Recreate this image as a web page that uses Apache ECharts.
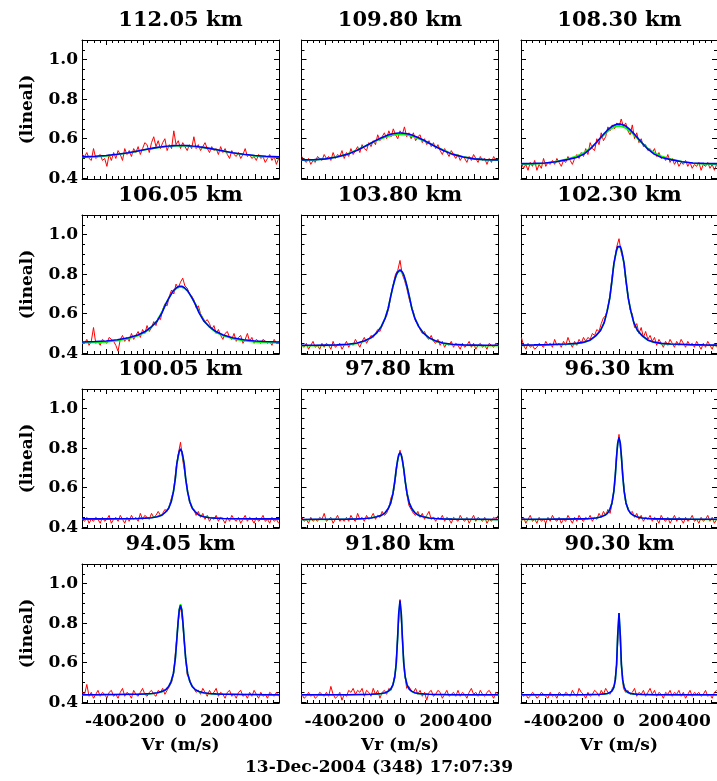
<!DOCTYPE html>
<html><head><meta charset="utf-8">
<script src="https://cdn.jsdelivr.net/npm/echarts@6/dist/echarts.min.js"></script>
<style>html,body{margin:0;padding:0;background:#fff}#c{width:717px;height:781px}</style>
</head><body><div id="c"></div><script>
// ---------------- DATA ----------------
const panelTitles = ['112.05 km','109.80 km','108.30 km','106.05 km','103.80 km','102.30 km',
                     '100.05 km','97.80 km','96.30 km','94.05 km','91.80 km','90.30 km'];
const caption = '13-Dec-2004 (348) 17:07:39';
const xName = 'Vr (m/s)';
const yName = '(lineal)';

const xMajorTicks = [-400,-200,0,200,400];
// labels split over two axes so the touching "-400" and "-200" are both drawn
const xLabelsA = [-200,0,200,400];
const xLabelsB = [-400];
const xMinorTicks = [-500,-466.7,-433.3,-366.7,-333.3,-300,-266.7,-233.3,-166.7,-133.3,-100,-66.7,-33.3,
                     33.3,66.7,100,133.3,166.7,233.3,266.7,300,333.3,366.7,433.3,466.7,500];
const yMajorTicks = [0.4,0.6,0.8,1.0];
const yMinorTicks = [0.45,0.5,0.55,0.65,0.7,0.75,0.85,0.9,0.95,1.05];

// velocities of the measured (red) spectra
const redX = [-528,-516,-504,-492,-480,-468,-456,-444,-432,-420,
  -408,-396,-384,-372,-360,-348,-336,-324,-312,-300,
  -288,-276,-264,-252,-240,-228,-216,-204,-192,-180,
  -168,-156,-144,-132,-120,-108,-96,-84,-72,-60,
  -48,-36,-24,-12,0,12,24,36,48,60,
  72,84,96,108,120,132,144,156,168,180,
  192,204,216,228,240,252,264,276,288,300,
  312,324,336,348,360,372,384,396,408,420,
  432,444,456,468,480,492,504,516,528];

// velocities of the fitted (green / blue) curves
const fitX = [-530,-460,-400,-340,-280,-230,-190,-155,-125,-100,-80,-64,-50,-38,-28,-20,-13,-7,0,
  7,13,20,28,38,50,64,80,100,125,155,190,230,280,340,400,460,530];

const red1 = [0.52,0.51,0.53,0.50,0.49,0.55,0.50,0.51,0.52,0.49,
  0.50,0.46,0.52,0.49,0.53,0.50,0.54,0.52,0.49,0.55,
  0.52,0.54,0.51,0.55,0.53,0.56,0.52,0.55,0.58,0.57,
  0.53,0.58,0.61,0.56,0.59,0.55,0.58,0.60,0.54,0.57,
  0.55,0.64,0.57,0.59,0.55,0.58,0.56,0.54,0.57,0.55,
  0.61,0.55,0.57,0.54,0.56,0.58,0.55,0.53,0.56,0.54,
  0.55,0.52,0.56,0.53,0.55,0.52,0.50,0.54,0.52,0.51,
  0.53,0.50,0.52,0.55,0.51,0.52,0.50,0.51,0.49,0.52,
  0.50,0.51,0.48,0.50,0.52,0.49,0.51,0.47,0.50];
const red2 = [0.51,0.49,0.48,0.50,0.47,0.49,0.48,0.51,0.50,0.49,
  0.52,0.50,0.51,0.49,0.53,0.50,0.52,0.51,0.54,0.50,
  0.53,0.51,0.55,0.52,0.54,0.56,0.53,0.57,0.55,0.54,
  0.58,0.56,0.59,0.57,0.62,0.59,0.61,0.63,0.60,0.64,
  0.61,0.65,0.62,0.60,0.64,0.62,0.66,0.61,0.63,0.60,
  0.63,0.59,0.61,0.62,0.58,0.60,0.57,0.59,0.56,0.58,
  0.55,0.57,0.54,0.52,0.55,0.53,0.51,0.54,0.52,0.50,
  0.52,0.49,0.51,0.50,0.48,0.51,0.49,0.52,0.50,0.48,
  0.51,0.49,0.50,0.47,0.50,0.48,0.51,0.49,0.50];
const red3 = [0.48,0.45,0.47,0.44,0.48,0.46,0.49,0.44,0.47,0.45,
  0.50,0.46,0.48,0.47,0.49,0.47,0.50,0.48,0.46,0.49,
  0.48,0.51,0.49,0.47,0.50,0.52,0.50,0.53,0.51,0.55,
  0.52,0.58,0.55,0.54,0.60,0.57,0.63,0.59,0.61,0.66,
  0.64,0.67,0.65,0.68,0.66,0.70,0.66,0.68,0.64,0.62,
  0.67,0.60,0.63,0.58,0.60,0.56,0.57,0.54,0.55,0.53,
  0.55,0.51,0.53,0.50,0.51,0.49,0.52,0.48,0.50,0.47,
  0.49,0.46,0.48,0.47,0.49,0.46,0.48,0.45,0.47,0.46,
  0.48,0.44,0.47,0.46,0.48,0.45,0.47,0.44,0.47];
const red4 = [0.46,0.45,0.47,0.44,0.46,0.53,0.45,0.46,0.44,0.47,
  0.46,0.45,0.48,0.47,0.46,0.44,0.41,0.47,0.49,0.46,
  0.48,0.46,0.50,0.47,0.49,0.51,0.48,0.52,0.50,0.54,
  0.51,0.53,0.56,0.54,0.58,0.57,0.62,0.65,0.64,0.69,
  0.72,0.70,0.75,0.73,0.76,0.78,0.74,0.73,0.70,0.69,
  0.67,0.63,0.64,0.60,0.58,0.56,0.57,0.55,0.52,0.54,
  0.50,0.52,0.49,0.47,0.50,0.51,0.48,0.47,0.50,0.46,
  0.48,0.49,0.45,0.47,0.50,0.46,0.48,0.45,0.47,0.46,
  0.45,0.47,0.46,0.45,0.46,0.44,0.47,0.45,0.46];
const red5 = [0.44,0.43,0.45,0.42,0.44,0.46,0.43,0.44,0.42,0.45,
  0.43,0.45,0.44,0.42,0.46,0.43,0.44,0.45,0.42,0.44,
  0.46,0.43,0.45,0.44,0.47,0.45,0.43,0.46,0.48,0.45,
  0.47,0.49,0.48,0.50,0.52,0.51,0.54,0.57,0.59,0.63,
  0.70,0.75,0.80,0.82,0.87,0.80,0.77,0.73,0.68,0.64,
  0.61,0.56,0.55,0.52,0.50,0.51,0.48,0.47,0.49,0.46,
  0.45,0.47,0.44,0.46,0.43,0.45,0.44,0.46,0.43,0.45,
  0.44,0.42,0.45,0.43,0.44,0.46,0.43,0.45,0.42,0.44,
  0.45,0.43,0.44,0.42,0.45,0.44,0.43,0.45,0.44];
const red6 = [0.48,0.44,0.42,0.45,0.43,0.44,0.42,0.43,0.45,0.44,
  0.43,0.46,0.44,0.45,0.43,0.47,0.44,0.45,0.43,0.46,
  0.44,0.48,0.45,0.43,0.46,0.44,0.47,0.45,0.48,0.46,
  0.48,0.47,0.50,0.49,0.52,0.51,0.55,0.58,0.59,0.63,
  0.70,0.80,0.87,0.94,0.98,0.91,0.87,0.77,0.70,0.62,
  0.60,0.53,0.55,0.50,0.53,0.48,0.51,0.47,0.49,0.46,
  0.48,0.44,0.47,0.45,0.43,0.46,0.44,0.47,0.45,0.43,
  0.46,0.44,0.47,0.45,0.43,0.46,0.44,0.45,0.43,0.46,
  0.44,0.42,0.45,0.43,0.46,0.44,0.42,0.45,0.43];
const red7 = [0.44,0.43,0.45,0.42,0.44,0.43,0.45,0.44,0.42,0.45,
  0.43,0.44,0.46,0.42,0.44,0.45,0.43,0.46,0.44,0.42,
  0.45,0.43,0.46,0.44,0.45,0.43,0.47,0.44,0.46,0.45,
  0.44,0.47,0.45,0.46,0.48,0.46,0.47,0.49,0.48,0.51,
  0.55,0.59,0.70,0.77,0.83,0.74,0.67,0.60,0.53,0.50,
  0.49,0.46,0.48,0.45,0.47,0.44,0.46,0.43,0.45,0.44,
  0.46,0.43,0.45,0.44,0.42,0.45,0.43,0.46,0.44,0.43,
  0.45,0.42,0.44,0.46,0.43,0.45,0.44,0.42,0.45,0.43,
  0.44,0.46,0.43,0.44,0.42,0.45,0.43,0.44,0.42];
const red8 = [0.45,0.43,0.44,0.42,0.45,0.43,0.44,0.43,0.45,0.44,
  0.47,0.43,0.44,0.45,0.42,0.44,0.46,0.43,0.44,0.43,
  0.45,0.43,0.46,0.44,0.43,0.47,0.44,0.45,0.43,0.46,
  0.44,0.45,0.47,0.44,0.46,0.45,0.48,0.46,0.47,0.50,
  0.55,0.57,0.65,0.74,0.79,0.75,0.66,0.57,0.51,0.49,
  0.47,0.46,0.48,0.45,0.47,0.44,0.46,0.48,0.44,0.45,
  0.43,0.45,0.44,0.46,0.43,0.45,0.44,0.42,0.45,0.44,
  0.43,0.46,0.44,0.43,0.45,0.42,0.44,0.46,0.43,0.45,
  0.44,0.43,0.45,0.42,0.44,0.43,0.45,0.44,0.46];
const red9 = [0.43,0.45,0.42,0.44,0.46,0.43,0.44,0.42,0.45,0.43,
  0.44,0.42,0.45,0.43,0.46,0.44,0.43,0.45,0.42,0.44,
  0.43,0.46,0.44,0.42,0.45,0.43,0.46,0.44,0.43,0.45,
  0.44,0.46,0.43,0.45,0.44,0.47,0.45,0.48,0.46,0.49,
  0.47,0.53,0.61,0.78,0.87,0.76,0.63,0.52,0.50,0.47,
  0.48,0.45,0.47,0.44,0.46,0.43,0.45,0.44,0.46,0.43,
  0.45,0.44,0.42,0.46,0.44,0.43,0.45,0.42,0.44,0.46,
  0.43,0.45,0.44,0.42,0.45,0.43,0.44,0.46,0.43,0.44,
  0.42,0.45,0.43,0.44,0.46,0.43,0.45,0.42,0.44];
const red10 = [0.45,0.44,0.49,0.43,0.45,0.42,0.44,0.46,0.43,0.45,
  0.44,0.42,0.45,0.46,0.43,0.44,0.42,0.45,0.47,0.43,
  0.45,0.44,0.42,0.46,0.44,0.43,0.45,0.47,0.44,0.43,
  0.45,0.46,0.44,0.43,0.46,0.45,0.47,0.44,0.46,0.48,
  0.50,0.55,0.69,0.81,0.89,0.80,0.66,0.54,0.52,0.48,
  0.47,0.45,0.46,0.44,0.47,0.45,0.43,0.46,0.44,0.45,
  0.47,0.43,0.45,0.44,0.42,0.45,0.46,0.43,0.44,0.42,
  0.45,0.46,0.43,0.44,0.42,0.45,0.43,0.46,0.44,0.42,
  0.45,0.43,0.44,0.42,0.45,0.44,0.43,0.45,0.43];
const red11 = [0.44,0.42,0.43,0.45,0.43,0.44,0.42,0.43,0.45,0.44,
  0.43,0.45,0.43,0.48,0.44,0.42,0.43,0.45,0.41,0.44,
  0.43,0.46,0.45,0.47,0.44,0.46,0.45,0.47,0.43,0.46,
  0.45,0.43,0.47,0.44,0.46,0.42,0.45,0.46,0.44,0.47,
  0.46,0.50,0.56,0.74,0.92,0.74,0.55,0.47,0.48,0.46,
  0.45,0.47,0.44,0.46,0.43,0.45,0.41,0.45,0.46,0.43,
  0.44,0.46,0.45,0.42,0.44,0.46,0.43,0.44,0.45,0.43,
  0.46,0.43,0.45,0.44,0.42,0.45,0.47,0.44,0.45,0.43,
  0.46,0.44,0.43,0.45,0.46,0.44,0.42,0.45,0.44];
const red12 = [0.45,0.43,0.44,0.42,0.43,0.45,0.44,0.42,0.43,0.45,
  0.44,0.43,0.42,0.45,0.43,0.44,0.42,0.45,0.44,0.43,
  0.45,0.44,0.43,0.46,0.44,0.43,0.47,0.45,0.44,0.42,
  0.45,0.43,0.44,0.46,0.45,0.43,0.46,0.44,0.47,0.45,
  0.44,0.47,0.49,0.60,0.85,0.60,0.47,0.45,0.46,0.44,
  0.45,0.47,0.43,0.45,0.44,0.46,0.43,0.45,0.47,0.44,
  0.46,0.43,0.45,0.44,0.42,0.45,0.44,0.46,0.43,0.45,
  0.44,0.46,0.43,0.45,0.42,0.44,0.46,0.43,0.45,0.44,
  0.45,0.43,0.44,0.46,0.43,0.44,0.42,0.45,0.46];

const blue1 = [0.508,0.511,0.515,0.521,0.529,0.538,0.545,0.551,0.556,0.559,0.562,0.563,0.564,0.565,0.565,0.566,0.566,0.566,0.566,0.566,0.566,0.566,0.565,0.565,0.564,0.563,0.562,0.559,0.556,0.551,0.545,0.538,0.529,0.521,0.515,0.511,0.508];
const green1 = [0.505,0.508,0.513,0.520,0.528,0.537,0.544,0.550,0.554,0.557,0.559,0.561,0.562,0.563,0.563,0.564,0.564,0.564,0.564,0.564,0.564,0.564,0.563,0.563,0.562,0.561,0.559,0.557,0.554,0.550,0.544,0.537,0.528,0.520,0.513,0.508,0.505];
const blue2 = [0.493,0.494,0.498,0.507,0.522,0.542,0.561,0.578,0.594,0.605,0.613,0.619,0.623,0.625,0.627,0.628,0.629,0.629,0.629,0.629,0.629,0.628,0.627,0.625,0.623,0.619,0.613,0.605,0.594,0.578,0.561,0.542,0.522,0.507,0.498,0.494,0.493];
const green2 = [0.491,0.493,0.498,0.508,0.524,0.544,0.562,0.578,0.591,0.600,0.607,0.612,0.616,0.618,0.620,0.621,0.622,0.622,0.622,0.622,0.622,0.621,0.620,0.618,0.616,0.612,0.607,0.600,0.591,0.578,0.562,0.544,0.524,0.508,0.498,0.493,0.491];
const blue3 = [0.474,0.475,0.477,0.483,0.494,0.505,0.522,0.548,0.578,0.605,0.626,0.642,0.654,0.663,0.668,0.671,0.673,0.674,0.674,0.674,0.673,0.671,0.668,0.663,0.654,0.642,0.626,0.605,0.578,0.548,0.522,0.505,0.494,0.483,0.477,0.475,0.474];
const green3 = [0.470,0.472,0.476,0.484,0.497,0.511,0.529,0.552,0.578,0.601,0.620,0.634,0.645,0.653,0.658,0.661,0.663,0.664,0.664,0.664,0.663,0.661,0.658,0.653,0.645,0.634,0.620,0.601,0.578,0.552,0.529,0.511,0.497,0.484,0.476,0.472,0.470];
const blue4 = [0.457,0.459,0.462,0.468,0.478,0.492,0.510,0.535,0.564,0.604,0.647,0.676,0.699,0.717,0.727,0.733,0.737,0.739,0.740,0.739,0.737,0.733,0.727,0.717,0.699,0.676,0.647,0.604,0.564,0.535,0.510,0.492,0.478,0.468,0.462,0.459,0.457];
const green4 = [0.452,0.454,0.457,0.463,0.474,0.488,0.506,0.533,0.566,0.609,0.650,0.677,0.698,0.714,0.723,0.729,0.732,0.734,0.735,0.734,0.732,0.729,0.723,0.714,0.698,0.677,0.650,0.609,0.566,0.533,0.506,0.488,0.474,0.463,0.457,0.454,0.452];
const blue5 = [0.440,0.440,0.441,0.442,0.445,0.452,0.463,0.479,0.503,0.536,0.576,0.625,0.688,0.738,0.773,0.797,0.811,0.818,0.822,0.818,0.811,0.797,0.773,0.738,0.688,0.625,0.576,0.536,0.503,0.479,0.463,0.452,0.445,0.442,0.441,0.440,0.440];
const green5 = [0.438,0.438,0.439,0.440,0.443,0.450,0.461,0.478,0.503,0.537,0.578,0.627,0.688,0.737,0.771,0.794,0.807,0.814,0.818,0.814,0.807,0.794,0.771,0.737,0.688,0.627,0.578,0.537,0.503,0.478,0.461,0.450,0.443,0.440,0.439,0.438,0.438];
const blue6 = [0.441,0.442,0.443,0.445,0.447,0.450,0.456,0.467,0.489,0.515,0.555,0.613,0.679,0.768,0.852,0.892,0.923,0.940,0.948,0.940,0.923,0.892,0.852,0.768,0.679,0.613,0.555,0.515,0.489,0.467,0.456,0.450,0.447,0.445,0.443,0.442,0.441];
const green6 = [0.439,0.440,0.441,0.443,0.445,0.448,0.454,0.466,0.488,0.515,0.556,0.614,0.679,0.767,0.849,0.889,0.919,0.936,0.944,0.936,0.919,0.889,0.849,0.767,0.679,0.614,0.556,0.515,0.488,0.466,0.454,0.448,0.445,0.443,0.441,0.440,0.439];
const blue7 = [0.442,0.442,0.442,0.443,0.443,0.444,0.446,0.448,0.453,0.461,0.477,0.495,0.529,0.580,0.645,0.719,0.758,0.784,0.797,0.784,0.758,0.719,0.645,0.580,0.529,0.495,0.477,0.461,0.453,0.448,0.446,0.444,0.443,0.443,0.442,0.442,0.442];
const green7 = [0.441,0.441,0.441,0.442,0.443,0.444,0.446,0.449,0.454,0.462,0.478,0.497,0.530,0.580,0.643,0.716,0.755,0.781,0.794,0.781,0.755,0.716,0.643,0.580,0.530,0.497,0.478,0.462,0.454,0.449,0.446,0.444,0.443,0.442,0.441,0.441,0.441];
const blue8 = [0.439,0.440,0.440,0.440,0.441,0.442,0.444,0.447,0.453,0.460,0.473,0.493,0.522,0.571,0.634,0.697,0.739,0.766,0.778,0.766,0.739,0.697,0.634,0.571,0.522,0.493,0.473,0.460,0.453,0.447,0.444,0.442,0.441,0.440,0.440,0.440,0.439];
const green8 = [0.438,0.439,0.439,0.440,0.441,0.442,0.444,0.448,0.454,0.461,0.474,0.494,0.523,0.571,0.632,0.694,0.736,0.763,0.775,0.763,0.736,0.694,0.632,0.571,0.523,0.494,0.474,0.461,0.454,0.448,0.444,0.442,0.441,0.440,0.439,0.439,0.438];
const blue9 = [0.440,0.440,0.440,0.441,0.441,0.442,0.442,0.444,0.447,0.452,0.459,0.469,0.488,0.523,0.581,0.664,0.760,0.826,0.855,0.826,0.760,0.664,0.581,0.523,0.488,0.469,0.459,0.452,0.447,0.444,0.442,0.442,0.441,0.441,0.440,0.440,0.440];
const green9 = [0.439,0.439,0.440,0.440,0.441,0.441,0.442,0.444,0.447,0.452,0.460,0.470,0.489,0.523,0.580,0.661,0.756,0.822,0.851,0.822,0.756,0.661,0.580,0.523,0.489,0.470,0.460,0.452,0.447,0.444,0.442,0.441,0.441,0.440,0.440,0.439,0.439];
const blue10 = [0.438,0.438,0.439,0.439,0.440,0.440,0.442,0.444,0.448,0.454,0.463,0.479,0.506,0.547,0.619,0.714,0.805,0.866,0.891,0.866,0.805,0.714,0.619,0.547,0.506,0.479,0.463,0.454,0.448,0.444,0.442,0.440,0.440,0.439,0.439,0.438,0.438];
const green10 = [0.437,0.437,0.438,0.439,0.439,0.440,0.441,0.443,0.447,0.453,0.462,0.478,0.505,0.546,0.618,0.715,0.808,0.870,0.896,0.870,0.808,0.715,0.618,0.546,0.505,0.478,0.462,0.453,0.447,0.443,0.441,0.440,0.439,0.439,0.438,0.437,0.437];
const blue11 = [0.438,0.438,0.438,0.438,0.438,0.439,0.439,0.440,0.442,0.444,0.448,0.455,0.466,0.488,0.529,0.600,0.724,0.848,0.915,0.848,0.724,0.600,0.529,0.488,0.466,0.455,0.448,0.444,0.442,0.440,0.439,0.439,0.438,0.438,0.438,0.438,0.438];
const green11 = [0.437,0.437,0.437,0.438,0.438,0.438,0.439,0.440,0.441,0.443,0.447,0.454,0.465,0.487,0.527,0.597,0.720,0.843,0.910,0.843,0.720,0.597,0.527,0.487,0.465,0.454,0.447,0.443,0.441,0.440,0.439,0.438,0.438,0.438,0.437,0.437,0.437];
const blue12 = [0.438,0.438,0.438,0.438,0.438,0.438,0.438,0.439,0.439,0.440,0.442,0.444,0.449,0.457,0.475,0.513,0.591,0.740,0.852,0.740,0.591,0.513,0.475,0.457,0.449,0.444,0.442,0.440,0.439,0.439,0.438,0.438,0.438,0.438,0.438,0.438,0.438];
const green12 = [0.437,0.437,0.437,0.437,0.438,0.438,0.438,0.438,0.439,0.440,0.441,0.443,0.448,0.456,0.474,0.511,0.588,0.736,0.848,0.736,0.588,0.511,0.474,0.456,0.448,0.443,0.441,0.440,0.439,0.438,0.438,0.438,0.438,0.437,0.437,0.437,0.437];

// ---------------- BUILD ----------------
const reds = [red1,red2,red3,red4,red5,red6,red7,red8,red9,red10,red11,red12];
const blues = [blue1,blue2,blue3,blue4,blue5,blue6,blue7,blue8,blue9,blue10,blue11,blue12];
const greens = [green1,green2,green3,green4,green5,green6,green7,green8,green9,green10,green11,green12];

const FONT = 'DejaVu Serif';
const colLeft = [82, 301.5, 521];
const rowTop = [40, 215, 389, 564];
const W = 197, H = 139;
const XMIN = -530, XMAX = 530, YMIN = 0.396, YMAX = 1.1;

const grids = [], xAxes = [], yAxes = [], series = [], titles = [];
const pairs = (xs, ys) => xs.map((x, i) => [x, ys[i]]);
const tickFont = {fontFamily: FONT, fontSize: 17, fontWeight: 'bold', color: '#000'};

for (let g = 0; g < 12; g++) {
  const r = Math.floor(g / 3), c = g % 3;
  grids.push({left: colLeft[c], top: rowTop[r], width: W, height: H});
  titles.push({text: panelTitles[g], left: colLeft[c] + W / 2, top: rowTop[r] - 30, textAlign: 'center', padding: 0,
    textStyle: {fontFamily: FONT, fontSize: 21, fontWeight: 'bold', color: '#000'}});

  const baseX = {type: 'value', gridIndex: g, min: XMIN, max: XMAX, splitLine: {show: false}, axisPointer: {show: false}};
  const baseY = {type: 'value', gridIndex: g, min: YMIN, max: YMAX, splitLine: {show: false}, axisPointer: {show: false}};
  const line = {show: true, onZero: false, lineStyle: {color: '#000', width: 1}};
  const noLine = {show: false, onZero: false};
  const maj = (vals) => ({show: true, inside: true, length: 5, customValues: vals, lineStyle: {color: '#000', width: 1}});
  const min = (vals) => ({show: true, inside: true, length: 3, customValues: vals, lineStyle: {color: '#000', width: 1}});
  const showX = r === 3, showY = c === 0;

  xAxes.push(Object.assign({}, baseX, {position: 'bottom', axisLine: line, axisTick: maj(xMajorTicks),
    axisLabel: Object.assign({show: showX, customValues: xLabelsA, hideOverlap: false, margin: 10}, tickFont),
    name: showX ? xName : '', nameLocation: 'middle', nameGap: 34,
    nameTextStyle: tickFont}));
  xAxes.push(Object.assign({}, baseX, {position: 'bottom', axisLine: noLine, axisTick: min(xMinorTicks),
    axisLabel: Object.assign({show: showX, customValues: xLabelsB, hideOverlap: false, margin: 10}, tickFont)}));
  xAxes.push(Object.assign({}, baseX, {position: 'top', axisLine: line, axisTick: maj(xMajorTicks), axisLabel: {show: false}}));
  xAxes.push(Object.assign({}, baseX, {position: 'top', axisLine: noLine, axisTick: min(xMinorTicks), axisLabel: {show: false}}));

  yAxes.push(Object.assign({}, baseY, {position: 'left', axisLine: line, axisTick: maj(yMajorTicks),
    axisLabel: Object.assign({show: showY, customValues: yMajorTicks, showMinLabel: true, showMaxLabel: true,
      margin: 4, formatter: v => v.toFixed(1)}, tickFont),
    name: showY ? yName : '', nameLocation: 'middle', nameGap: 46, nameRotate: 90,
    nameTextStyle: tickFont}));
  yAxes.push(Object.assign({}, baseY, {position: 'left', axisLine: noLine, axisTick: min(yMinorTicks), axisLabel: {show: false}}));
  yAxes.push(Object.assign({}, baseY, {position: 'right', axisLine: line, axisTick: maj(yMajorTicks), axisLabel: {show: false}}));
  yAxes.push(Object.assign({}, baseY, {position: 'right', axisLine: noLine, axisTick: min(yMinorTicks), axisLabel: {show: false}}));

  const common = {type: 'line', xAxisIndex: 4 * g, yAxisIndex: 4 * g, showSymbol: false, symbol: 'none',
    clip: true, animation: false, silent: true};
  series.push(Object.assign({}, common, {name: 'obs' + g, data: pairs(redX, reds[g]), z: 2,
    lineStyle: {color: '#ff0000', width: 1}}));
  series.push(Object.assign({}, common, {name: 'fitG' + g, data: pairs(fitX, greens[g]), z: 3,
    lineStyle: {color: '#00ff00', width: 1.6}}));
  series.push(Object.assign({}, common, {name: 'fitB' + g, data: pairs(fitX, blues[g]), z: 4,
    lineStyle: {color: '#0000ff', width: 1.6}}));
}

titles.push({text: caption, left: 379, top: 759, textAlign: 'center', padding: 0,
  textStyle: {fontFamily: FONT, fontSize: 17, fontWeight: 'bold', color: '#000'}});

const chart = echarts.init(document.getElementById('c'), null, {renderer: 'canvas'});
chart.setOption({
  animation: false,
  backgroundColor: '#fff',
  textStyle: {fontFamily: FONT},
  title: titles,
  grid: grids,
  xAxis: xAxes,
  yAxis: yAxes,
  series: series
});
</script></body></html>
